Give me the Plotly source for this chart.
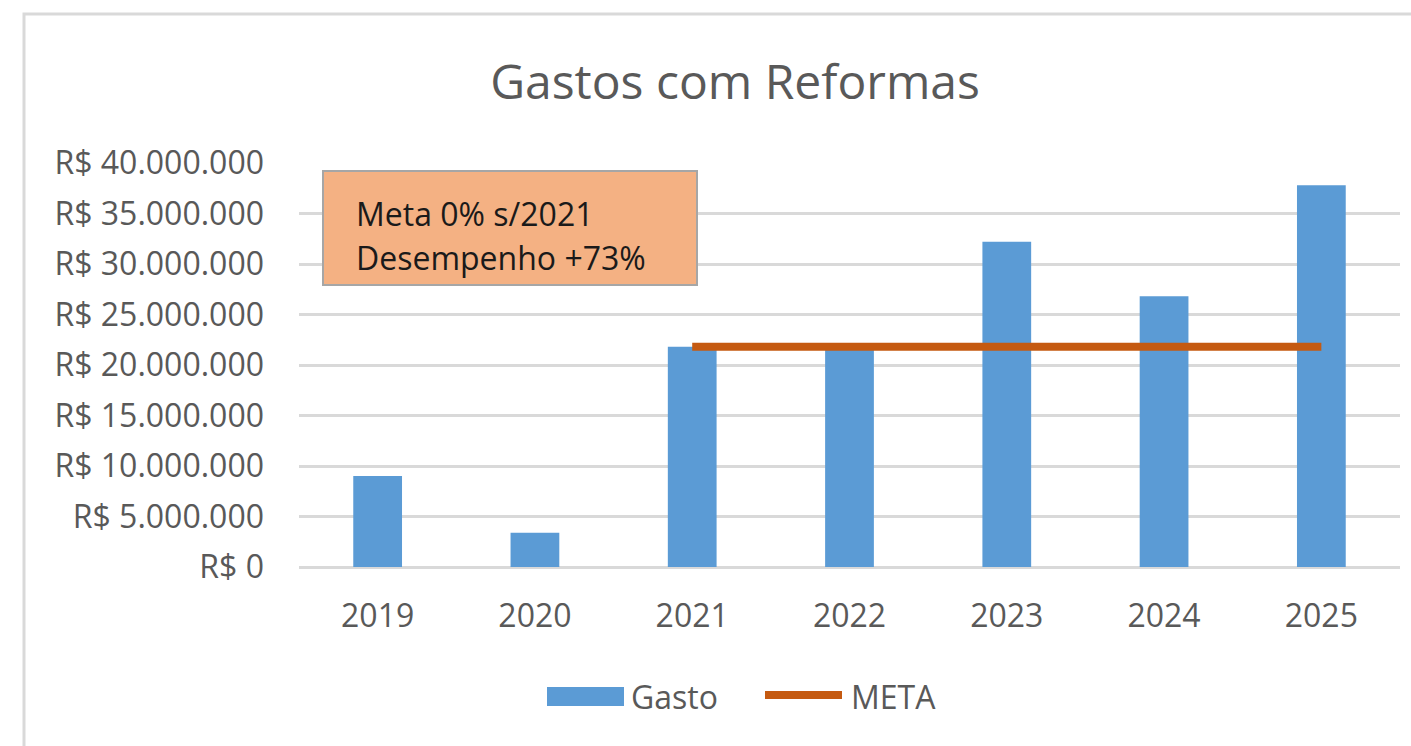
import plotly.graph_objects as go

anos = ["2019", "2020", "2021", "2022", "2023", "2024", "2025"]
gasto = [9.0e6, 3.4e6, 21.8e6, 21.6e6, 32.2e6, 26.8e6, 37.8e6]
meta_anos = ["2021", "2022", "2023", "2024", "2025"]
meta = [21.8e6, 21.8e6, 21.8e6, 21.8e6, 21.8e6]
y_ticks = [0, 5e6, 10e6, 15e6, 20e6, 25e6, 30e6, 35e6, 40e6]
y_labels = ["R$ 0", "R$ 5.000.000", "R$ 10.000.000", "R$ 15.000.000", "R$ 20.000.000",
            "R$ 25.000.000", "R$ 30.000.000", "R$ 35.000.000", "R$ 40.000.000"]

FONT = "Open Sans"
GRAY = "#595959"
BLUE = "#5B9BD5"
ORANGE = "#C55A11"

fig = go.Figure()
fig.add_trace(go.Bar(x=anos, y=gasto, name="Gasto", marker_color=BLUE,
                     marker_line_width=0, showlegend=False))
fig.add_trace(go.Scatter(x=meta_anos, y=meta, name="META", mode="lines",
                         line=dict(color=ORANGE, width=8), showlegend=False))

W, H = 1411, 746
L, R, T, B = 299, 11, 163, 179
pw, ph = W - L - R, H - T - B


def px(x):
    return (x - L) / pw


def py(y):
    return (H - B - y) / ph


fig.update_layout(
    width=W, height=H,
    margin=dict(l=L, r=R, t=T, b=B),
    paper_bgcolor="white", plot_bgcolor="white",
    font=dict(family=FONT, color=GRAY, size=32),
    title=dict(text="Gastos com Reformas", x=735 / W, xanchor="center",
               y=1 - 82 / H, yanchor="middle",
               font=dict(family=FONT, size=48, color=GRAY)),
    bargap=0.69,
    showlegend=False,
    xaxis=dict(type="category", showgrid=False, showline=False, ticks="",
               tickfont=dict(family=FONT, size=32, color=GRAY), ticklabelstandoff=27),
    yaxis=dict(range=[0, 40e6], tickvals=y_ticks, ticktext=y_labels,
               showgrid=True, gridcolor="#D9D9D9", gridwidth=2.5, zeroline=True,
               zerolinecolor="#D9D9D9", zerolinewidth=2.5, showline=False, ticks="",
               tickfont=dict(family=FONT, size=32, color=GRAY), ticklabelstandoff=34),
)

# outer chart border
fig.add_shape(type="rect", xref="paper", yref="paper",
              x0=px(24), x1=px(1425), y0=py(760), y1=py(14),
              line=dict(color="#D9D9D9", width=3), fillcolor="rgba(0,0,0,0)", layer="below")

# annotation box
fig.add_shape(type="rect", xref="paper", yref="paper",
              x0=px(323), x1=px(697), y0=py(285), y1=py(171),
              line=dict(color="#A6A6A6", width=2), fillcolor="#F4B183", layer="above")
fig.add_annotation(xref="paper", yref="paper", x=px(354), y=py(213), xanchor="left",
                   yanchor="middle", text="Meta 0% s/2021", showarrow=False,
                   font=dict(family=FONT, size=32, color="#1a1a1a"))
fig.add_annotation(xref="paper", yref="paper", x=px(354), y=py(257), xanchor="left",
                   yanchor="middle", text="Desempenho +73%", showarrow=False,
                   font=dict(family=FONT, size=32, color="#1a1a1a"))

# legend (drawn)
fig.add_shape(type="rect", xref="paper", yref="paper",
              x0=px(547), x1=px(624), y0=py(706), y1=py(687),
              line=dict(width=0), fillcolor=BLUE)
fig.add_annotation(xref="paper", yref="paper", x=px(629), y=py(696), xanchor="left",
                   yanchor="middle", text="Gasto", showarrow=False,
                   font=dict(family=FONT, size=32, color=GRAY))
fig.add_shape(type="line", xref="paper", yref="paper",
              x0=px(765), x1=px(842), y0=py(695), y1=py(695),
              line=dict(color=ORANGE, width=8))
fig.add_annotation(xref="paper", yref="paper", x=px(849), y=py(696), xanchor="left",
                   yanchor="middle", text="META", showarrow=False,
                   font=dict(family=FONT, size=32, color=GRAY))

fig.write_html("out.html",
               config={"displayModeBar": False},
               post_script="document.body.style.margin='0';"
                           "document.documentElement.style.overflow='hidden';")
